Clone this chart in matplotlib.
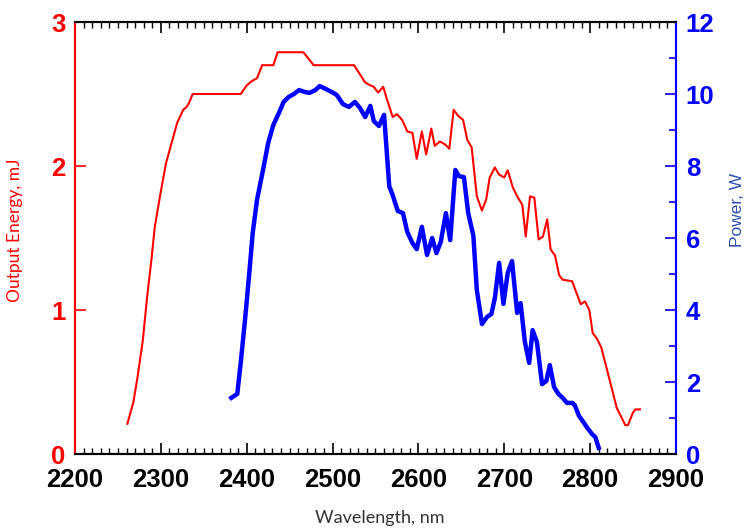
import matplotlib
matplotlib.use("Agg")
import matplotlib.pyplot as plt
from matplotlib.ticker import MultipleLocator

# Output energy (red, left axis)
energy_wl = [2261, 2268, 2273, 2279, 2284, 2289, 2293, 2299, 2306, 2313, 2319, 2326,
             2330, 2333, 2337, 2393, 2400, 2406, 2412, 2418, 2431, 2436, 2466, 2478,
             2525, 2538, 2544, 2548, 2553, 2559, 2563, 2570, 2575, 2581, 2587, 2593,
             2598, 2604, 2609, 2615, 2619, 2625, 2631, 2636, 2641, 2646, 2652, 2657,
             2662, 2668, 2674, 2679, 2683, 2689, 2694, 2700, 2704, 2710, 2715, 2721,
             2725, 2730, 2735, 2740, 2745, 2750, 2754, 2759, 2764, 2768, 2779, 2784,
             2789, 2794, 2799, 2803, 2808, 2813, 2822, 2831, 2836, 2841, 2844, 2850,
             2853, 2858]
energy_mj = [0.21, 0.36, 0.54, 0.79, 1.09, 1.35, 1.58, 1.79, 2.02, 2.17, 2.30, 2.39,
             2.41, 2.44, 2.50, 2.50, 2.56, 2.59, 2.61, 2.70, 2.70, 2.79, 2.79, 2.70,
             2.70, 2.58, 2.56, 2.55, 2.51, 2.55, 2.47, 2.34, 2.36, 2.32, 2.24, 2.23,
             2.05, 2.24, 2.08, 2.26, 2.14, 2.17, 2.15, 2.12, 2.39, 2.35, 2.32, 2.18,
             2.13, 1.79, 1.69, 1.77, 1.92, 1.99, 1.94, 1.92, 1.97, 1.85, 1.79, 1.73,
             1.51, 1.79, 1.78, 1.49, 1.51, 1.63, 1.42, 1.38, 1.24, 1.21, 1.20, 1.12,
             1.04, 1.06, 1.00, 0.84, 0.80, 0.74, 0.53, 0.32, 0.26, 0.20, 0.20, 0.29,
             0.31, 0.31]

# Power (blue, right axis)
power_wl = [2382, 2389, 2393, 2398, 2403, 2407, 2412, 2419, 2425, 2431, 2438, 2443,
            2449, 2455, 2461, 2467, 2473, 2480, 2485, 2492, 2501, 2505, 2512, 2519,
            2526, 2532, 2538, 2544, 2548, 2554, 2560, 2566, 2570, 2576, 2582, 2587,
            2593, 2598, 2604, 2610, 2616, 2621, 2626, 2632, 2637, 2643, 2647, 2653,
            2658, 2664, 2668, 2674, 2680, 2685, 2689, 2694, 2699, 2704, 2709, 2715,
            2719, 2724, 2729, 2733, 2738, 2744, 2749, 2753, 2758, 2763, 2768, 2773,
            2779, 2782, 2787, 2792, 2796, 2802, 2806, 2810]
power_w = [1.56, 1.67, 2.53, 3.72, 5.03, 6.14, 7.06, 7.89, 8.64, 9.14, 9.50, 9.78,
           9.92, 10.00, 10.11, 10.06, 10.03, 10.11, 10.22, 10.14, 10.03, 9.97, 9.72, 9.64,
           9.78, 9.61, 9.36, 9.67, 9.25, 9.11, 9.42, 7.44, 7.19, 6.75, 6.69, 6.17,
           5.86, 5.69, 6.31, 5.53, 6.00, 5.58, 5.89, 6.69, 5.94, 7.89, 7.72, 7.69,
           6.69, 6.06, 4.56, 3.61, 3.81, 3.89, 4.33, 5.31, 4.17, 5.03, 5.36, 3.92,
           4.19, 3.11, 2.53, 3.44, 3.11, 1.94, 2.03, 2.47, 1.86, 1.67, 1.56, 1.42,
           1.42, 1.36, 1.06, 0.89, 0.75, 0.56, 0.47, 0.17]

x_ticks = [2200, 2300, 2400, 2500, 2600, 2700, 2800, 2900]
energy_ticks = [0, 1, 2, 3]
power_ticks = [0, 2, 4, 6, 8, 10, 12]

RED = "#ff0000"
BLUE = "#0000ff"
tick_font = ["Liberation Sans", "DejaVu Sans"]
label_font = ["Lato", "DejaVu Sans"]

fig = plt.figure(figsize=(7.44, 5.29), dpi=100)
ax = fig.add_axes([75 / 744, 1 - 454 / 529, 601 / 744, 432 / 529])
ax2 = ax.twinx()

ax.plot(energy_wl, energy_mj, color=RED, lw=1.5, zorder=3)
ax2.plot(power_wl, power_w, color=BLUE, lw=3.2, zorder=3)

ax.set_xlim(2200, 2900)
ax.set_ylim(0, 3)
ax2.set_ylim(0, 12)

ax.set_xticks(x_ticks)
ax.xaxis.set_minor_locator(MultipleLocator(10))
ax.set_yticks(energy_ticks)
ax2.set_yticks(power_ticks)
ax2.yaxis.set_minor_locator(MultipleLocator(1))

ax.tick_params(axis="x", which="major", direction="in", top=True, bottom=True,
               length=8, width=1.2, color="black", labelsize=18.5, pad=10)
ax.tick_params(axis="x", which="minor", direction="in", top=True, bottom=True,
               length=4, width=1.0, color="black")
ax.tick_params(axis="y", which="major", direction="in", length=8, width=1.2,
               color=RED, labelcolor=RED, labelsize=18.5, pad=7)
ax2.tick_params(axis="y", which="major", direction="in", length=8, width=1.2,
                color=BLUE, labelcolor=BLUE, labelsize=18.5, pad=7)
ax2.tick_params(axis="y", which="minor", direction="in", length=5, width=1.2,
                color=BLUE)

for lab in ax.get_xticklabels() + ax.get_yticklabels() + ax2.get_yticklabels():
    lab.set_fontweight("bold")
    lab.set_family(tick_font)

for a in (ax, ax2):
    a.spines["top"].set_color("black")
    a.spines["bottom"].set_color("black")
    a.spines["left"].set_color(RED)
    a.spines["right"].set_color(BLUE)
    for s in a.spines.values():
        s.set_linewidth(1.5)

fig.text(380 / 744, 1 - 518 / 529, "Wavelength, nm", ha="center", va="center",
         fontsize=13, color="#333333", family=label_font)
fig.text(15 / 744, 1 - 230 / 529, "Output Energy, mJ", ha="center", va="center",
         rotation=90, fontsize=12.5, color=RED, family=label_font)
fig.text(737 / 744, 1 - 210 / 529, "Power, W", ha="center", va="center",
         rotation=90, fontsize=12.5, color="#2a4fb0", family=["Liberation Sans", "DejaVu Sans"])

fig.savefig("out.png", dpi=100)
